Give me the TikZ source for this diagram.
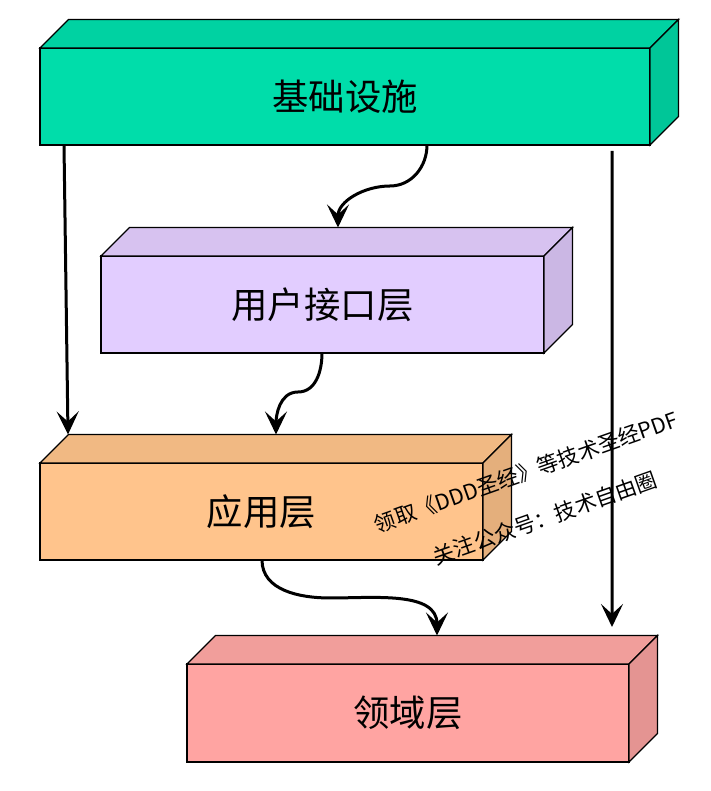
\documentclass[tikz,border=0pt]{standalone}
\usepackage{fontspec}
\setmainfont{Noto Sans CJK SC}
\usetikzlibrary{calc,arrows.meta}
\definecolor{infraF}{RGB}{0,221,170}
\definecolor{infraT}{RGB}{0,210,162}
\definecolor{infraS}{RGB}{0,198,152}
\definecolor{uiF}{RGB}{226,205,255}
\definecolor{uiT}{RGB}{215,194,240}
\definecolor{uiS}{RGB}{203,183,228}
\definecolor{appF}{RGB}{255,196,140}
\definecolor{appT}{RGB}{241,185,131}
\definecolor{appS}{RGB}{228,175,124}
\definecolor{domF}{RGB}{255,164,162}
\definecolor{domT}{RGB}{241,158,155}
\definecolor{domS}{RGB}{228,148,146}
\tikzset{
  layer/.style={draw=black, line width=1.3bp, minimum height=97bp, inner sep=0pt, outer sep=0pt, font=\fontsize{36.5}{42}\selectfont},
  face/.style={draw=black, line width=1.3bp, line join=miter},
  flow/.style={line width=3bp, -{Stealth[length=23bp,width=22bp,inset=10bp]}},
  wm/.style={font=\fontsize{21.5}{26}\selectfont, rotate=19.5, inner sep=0pt},
}
\newcommand\layerfaces[3]{%
  \draw[face, fill=#2] (#1.north west) -- ++(28.5,28.5) -- ($(#1.north east)+(28.5,28.5)$) -- (#1.north east) -- cycle;
  \draw[face, fill=#3] (#1.north east) -- ++(28.5,28.5) -- ($(#1.south east)+(28.5,28.5)$) -- (#1.south east) -- cycle;
}
\begin{document}
\begin{tikzpicture}[x=1bp,y=1bp]
\useasboundingbox (0,0) rectangle (711,791);
% layers
\node[layer, fill=infraF, minimum width=610bp] (infra) at (345,694.5) {基础设施};
\layerfaces{infra}{infraT}{infraS}
\node[layer, fill=uiF, minimum width=443bp] (ui) at (322.5,486.5) {用户接口层};
\layerfaces{ui}{uiT}{uiS}
\node[layer, fill=appF, minimum width=443bp] (app) at (261.5,279.5) {应用层};
\layerfaces{app}{appT}{appS}
\node[layer, fill=domF, minimum width=442bp, minimum height=98bp] (domain) at (408,78) {领域层};
\layerfaces{domain}{domT}{domS}
% watermark
\node[wm] (wm1) at (526,319) {领取《DDD圣经》等技术圣经PDF};
\node[wm] (wm2) at (545,273) {关注公众号：技术自由圈};
% connectors
\draw[flow] ($(infra.south west)+(24,0)$) -- ($(app.north west)+(28,28.5)$);
\draw[flow] ($(infra.south west)+(572,-6)$) -- ($(domain.north west)+(425,37)$);
\draw[flow] ($(infra.south west)+(387,0)$) to[out=-90,in=0] (390,605) to[out=180,in=90] ($(ui.north west)+(237,28.5)$);
\draw[flow] ($(ui.south west)+(221,0)$) to[out=-90,in=0] (298,399) to[out=180,in=90] ($(app.north west)+(236,28.5)$);
\draw[flow] ($(app.south west)+(222,0)$) to[out=-90,in=180] (330,193) to[out=0,in=90] ($(domain.north west)+(250,28.5)$);
\end{tikzpicture}
\end{document}
